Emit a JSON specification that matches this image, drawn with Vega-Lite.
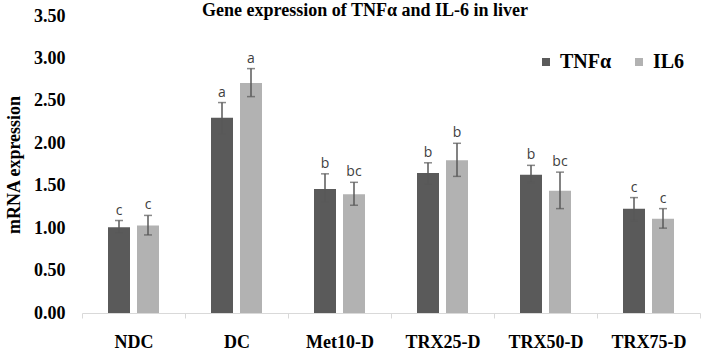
{
  "$schema": "https://vega.github.io/schema/vega-lite/v6.json",
  "autosize": "none",
  "width": 618,
  "height": 297,
  "padding": {"left": 82, "top": 16, "right": 2, "bottom": 37},
  "background": "white",
  "title": {
    "text": "Gene expression of TNFα and IL-6 in liver",
    "font": "Liberation Serif",
    "fontSize": 18,
    "fontWeight": "bold",
    "color": "#000000",
    "anchor": "middle",
    "baseline": "alphabetic",
    "offset": 0,
    "dx": -26,
    "dy": 27
  },
  "data": {
    "values": [
      {"group": "NDC", "gene": "TNFα", "mean": 1.01, "lo": 0.94, "hi": 1.09, "letter": "c"},
      {"group": "NDC", "gene": "IL6", "mean": 1.03, "lo": 0.92, "hi": 1.15, "letter": "c"},
      {"group": "DC", "gene": "TNFα", "mean": 2.30, "lo": 2.11, "hi": 2.48, "letter": "a"},
      {"group": "DC", "gene": "IL6", "mean": 2.71, "lo": 2.55, "hi": 2.88, "letter": "a"},
      {"group": "Met10-D", "gene": "TNFα", "mean": 1.46, "lo": 1.31, "hi": 1.64, "letter": "b"},
      {"group": "Met10-D", "gene": "IL6", "mean": 1.40, "lo": 1.27, "hi": 1.54, "letter": "bc"},
      {"group": "TRX25-D", "gene": "TNFα", "mean": 1.65, "lo": 1.52, "hi": 1.77, "letter": "b"},
      {"group": "TRX25-D", "gene": "IL6", "mean": 1.80, "lo": 1.61, "hi": 2.00, "letter": "b"},
      {"group": "TRX50-D", "gene": "TNFα", "mean": 1.63, "lo": 1.54, "hi": 1.74, "letter": "b"},
      {"group": "TRX50-D", "gene": "IL6", "mean": 1.44, "lo": 1.23, "hi": 1.66, "letter": "bc"},
      {"group": "TRX75-D", "gene": "TNFα", "mean": 1.23, "lo": 1.09, "hi": 1.36, "letter": "c"},
      {"group": "TRX75-D", "gene": "IL6", "mean": 1.11, "lo": 1.00, "hi": 1.23, "letter": "c"}
    ]
  },
  "encoding": {
    "x": {
      "field": "group",
      "type": "nominal",
      "sort": null,
      "scale": {"paddingInner": 0, "paddingOuter": 0},
      "axis": {
        "title": null,
        "labelAngle": 0,
        "labelFont": "Liberation Serif",
        "labelFontSize": 18,
        "labelFontWeight": "bold",
        "labelColor": "#000000",
        "labelPadding": 15,
        "domainColor": "#d9d9d9",
        "tickColor": "#d9d9d9",
        "tickSize": 5,
        "tickBand": "extent"
      }
    },
    "xOffset": {
      "field": "gene",
      "type": "nominal",
      "sort": ["TNFα", "IL6"],
      "scale": {"paddingInner": 0.2414, "paddingOuter": 0.897}
    }
  },
  "layer": [
    {
      "mark": {"type": "bar"},
      "encoding": {
        "y": {
          "field": "mean",
          "type": "quantitative",
          "scale": {"domain": [0, 3.5], "nice": false},
          "axis": {
            "title": "mRNA expression",
            "titleFont": "Liberation Serif",
            "titleFontSize": 18,
            "titleFontWeight": "bold",
            "titleColor": "#000000",
            "titlePadding": 10,
            "values": [0, 0.5, 1, 1.5, 2, 2.5, 3, 3.5],
            "format": ".2f",
            "labelFont": "Liberation Serif",
            "labelFontSize": 18,
            "labelFontWeight": "bold",
            "labelColor": "#000000",
            "labelPadding": 17,
            "domain": false,
            "ticks": false,
            "grid": false
          }
        },
        "color": {
          "field": "gene",
          "type": "nominal",
          "sort": ["TNFα", "IL6"],
          "scale": {"domain": ["TNFα", "IL6"], "range": ["#5a5a5a", "#b2b2b2"]},
          "legend": {
            "title": null,
            "orient": "none",
            "legendX": 454,
            "legendY": 36,
            "direction": "horizontal",
            "symbolType": "square",
            "symbolSize": 64,
            "symbolStrokeWidth": 0,
            "labelFont": "Liberation Serif",
            "labelFontSize": 20,
            "labelFontWeight": "bold",
            "labelColor": "#000000",
            "labelOffset": 4,
            "columnPadding": 17
          }
        }
      }
    },
    {
      "mark": {"type": "rule", "color": "#595959", "strokeWidth": 1.5},
      "encoding": {
        "y": {"field": "lo", "type": "quantitative"},
        "y2": {"field": "hi"}
      }
    },
    {
      "mark": {"type": "tick", "color": "#595959", "size": 8, "thickness": 1.5, "orient": "horizontal"},
      "encoding": {
        "y": {"field": "lo", "type": "quantitative"}
      }
    },
    {
      "mark": {"type": "tick", "color": "#595959", "size": 8, "thickness": 1.5, "orient": "horizontal"},
      "encoding": {
        "y": {"field": "hi", "type": "quantitative"}
      }
    },
    {
      "mark": {"type": "text", "font": "Open Sans", "fontSize": 14, "color": "#404040", "baseline": "alphabetic", "dy": -6},
      "encoding": {
        "y": {"field": "hi", "type": "quantitative"},
        "text": {"field": "letter"}
      }
    }
  ],
  "config": {
    "view": {"stroke": null}
  }
}
